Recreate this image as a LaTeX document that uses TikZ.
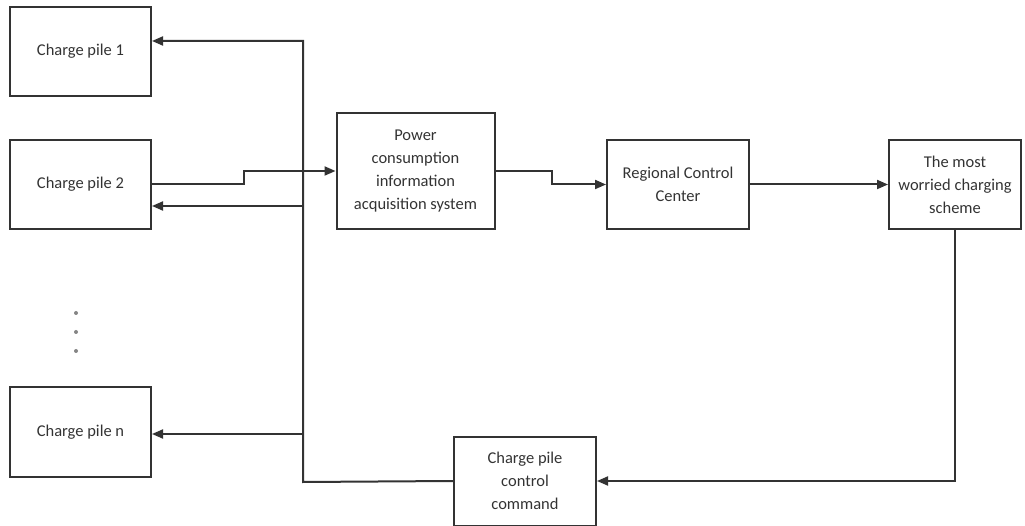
\documentclass[tikz,border=0pt]{standalone}
\usepackage{fontspec}
\setmainfont{Carlito}
\usepackage{tikz}
\usetikzlibrary{arrows.meta}
\usetikzlibrary{positioning}
\definecolor{ink}{HTML}{333333}

\begin{document}
\begin{tikzpicture}[x=1pt,y=-1pt,
        block/.style={draw=ink, line width=2pt, text=ink, align=center,
            font=\fontsize{16.5}{23}\selectfont, inner sep=2pt},
        arr/.style={draw=ink, line width=2pt, -{Triangle[length=11pt,width=9pt]}},
        wire/.style={draw=ink, line width=2pt}]
        \useasboundingbox (0,0) rectangle (1025,526);
        % charge piles on the left
        \node[block, minimum width=141pt, minimum height=89pt] (pile1) at (80.5, 51.5) {Charge pile 1};
        \node[block, minimum width=141pt, minimum height=89pt] (pile2) at (80.5, 184.5) {Charge pile 2};
        \node[block, minimum width=141pt, minimum height=90pt] (pilen) at (80.5, 432) {Charge pile n};
        \foreach \y in {313,332,351}
        {
            \fill[ink!60] (76,\y) circle (2pt);
        }
        % system chain
        \node[block, minimum width=158pt, minimum height=116pt] (acq) at (415.5, 171) {Power\\consumption\\information\\acquisition system};
        \node[block, minimum width=142pt, minimum height=89pt] (rcc) at (678, 184.5) {Regional Control\\Center};
        \node[block, minimum width=132pt, minimum height=89pt] (scheme) at (955, 184.5) {The most\\worried charging\\scheme};
        \node[block, minimum width=142pt, minimum height=89pt] (cmd) at (525, 481) {Charge pile\\control\\command};

        \draw[arr] (pile2.east) -- ++(92,0) |- (acq.west);
        \draw[arr] (acq.east) -- ++(56,0) |- (rcc.west);
        \draw[arr] (rcc.east) -- (scheme.west);
        \draw[arr] (scheme.south) |- (cmd.east);

        % feedback bus
        \coordinate (bustop) at (303,41);
        \coordinate (busbot) at (303,482);
        \coordinate (bus2) at (303,206);
        \coordinate (busn) at (303,434);
        \draw[arr] (cmd.west) -- (busbot) -- (bustop) -- (bustop -| pile1.east);
        \draw[arr] (bus2) -- (bus2 -| pile2.east);
        \draw[arr] (busn) -- (busn -| pilen.east);
\end{tikzpicture}
\end{document}
